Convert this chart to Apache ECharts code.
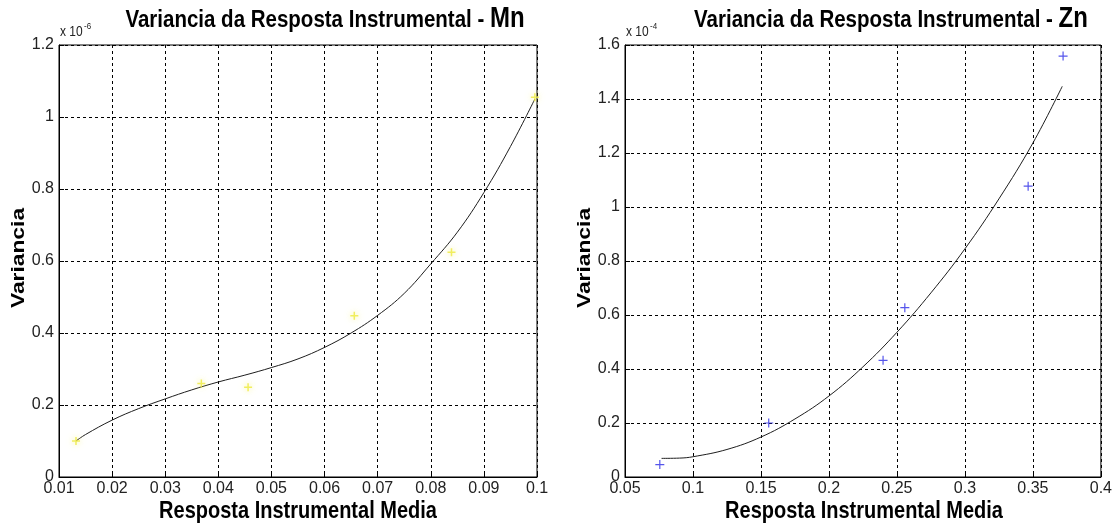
<!DOCTYPE html>
<html>
<head>
<meta charset="utf-8">
<script src="https://cdn.jsdelivr.net/npm/echarts@6/dist/echarts.min.js"></script>
<style>
  html, body { margin: 0; padding: 0; background: #fff; }
  #chart { width: 1115px; height: 527px; }
</style>
</head>
<body>
<div id="chart"></div>
<script>
// ---- Mn: measured points (variance in units of 1e-6) ----
const mnResponse = [0.0132, 0.0368, 0.0456, 0.0656, 0.0839, 0.0996];
const mnVariance = [0.100, 0.260, 0.249, 0.448, 0.624, 1.055];
// ---- Mn: fitted curve ----
const mnFitX = [0.0132, 0.015, 0.02, 0.025, 0.03, 0.035, 0.04, 0.045, 0.05, 0.055,
                0.06, 0.065, 0.07, 0.075, 0.08, 0.085, 0.09, 0.095, 0.0996];
const mnFitY = [0.100, 0.118, 0.158, 0.190, 0.217, 0.242, 0.264, 0.283, 0.304, 0.328,
                0.360, 0.400, 0.449, 0.510, 0.592, 0.680, 0.790, 0.918, 1.050];

// ---- Zn: measured points (variance in units of 1e-4) ----
const znResponse = [0.0756, 0.1557, 0.2398, 0.2558, 0.3465, 0.3722];
const znVariance = [0.046, 0.200, 0.432, 0.627, 1.077, 1.559];
// ---- Zn: fitted curve ----
const znFitX = [0.0769, 0.09, 0.1, 0.125, 0.15, 0.175, 0.2, 0.225, 0.25, 0.275,
                0.3, 0.325, 0.35, 0.3716];
const znFitY = [0.069, 0.070, 0.075, 0.102, 0.148, 0.215, 0.300, 0.408, 0.536, 0.682,
                0.845, 1.030, 1.237, 1.447];

// ---- axis ranges: [min, max, step] ----
const mnXAxis = [0.01, 0.1, 0.01];
const mnYAxis = [0, 1.2, 0.2];
const znXAxis = [0.05, 0.4, 0.05];
const znYAxis = [0, 1.6, 0.2];

// ---- texts ----
const titleText = 'Variancia da Resposta Instrumental - ';
const elements = ['Mn', 'Zn'];
const exponents = ['-6', '-4'];
const xName = 'Resposta Instrumental Media';
const yName = 'Variancia';

const pairs = (xs, ys) => xs.map((x, i) => [x, ys[i]]);
const fmt = v => String(Math.round(v * 1000) / 1000);

const TICK_FONT = '"Liberation Sans Narrow", "Arial Narrow", "Liberation Sans", Arial, sans-serif';
const BOLD_FONT = '"Liberation Sans", Arial, Helvetica, sans-serif';
const PLUS = 'path://M5,0L5,10M0,5L10,5';

const panels = [
  { left: 59, x: mnXAxis, y: mnYAxis },
  { left: 625, x: znXAxis, y: znYAxis }
];
const PW = 478, PT = 45, PH = 432;

function makeX(p, i) {
  return {
    type: 'value', gridIndex: i, min: p.x[0], max: p.x[1], interval: p.x[2],
    axisLine: { show: true, onZero: false, lineStyle: { color: '#000', width: 1 } },
    axisTick: { show: true, inside: true, length: 5, lineStyle: { color: '#000' } },
    axisLabel: { color: '#222', fontFamily: TICK_FONT, fontSize: 16, margin: 4, formatter: fmt },
    splitLine: { show: true, lineStyle: { color: '#000', width: 1, type: [3, 3] } }
  };
}
function makeY(p, i) {
  return {
    type: 'value', gridIndex: i, min: p.y[0], max: p.y[1], interval: p.y[2],
    axisLine: { show: true, onZero: false, lineStyle: { color: '#000', width: 1 } },
    axisTick: { show: true, inside: true, length: 5, lineStyle: { color: '#000' } },
    axisLabel: { color: '#222', fontFamily: TICK_FONT, fontSize: 16, margin: 5, formatter: fmt },
    splitLine: { show: true, lineStyle: { color: '#000', width: 1, type: [3, 3] } }
  };
}

const graphics = [];
panels.forEach((p, i) => {
  const cx = p.left + PW / 2;
  // title
  graphics.push({
    type: 'text', x: cx + 27, y: 33, scaleY: 1.2, z: 100, silent: true,
    style: {
      text: '{a|' + titleText + '}{b|' + elements[i] + '}',
      align: 'center', verticalAlign: 'bottom',
      rich: {
        a: { font: 'bold 20.5px ' + BOLD_FONT, fill: '#000', verticalAlign: 'bottom' },
        b: { font: 'bold 24px ' + BOLD_FONT, fill: '#000', verticalAlign: 'bottom' }
      }
    }
  });
  // exponent marker
  graphics.push({
    type: 'text', x: p.left + 1, y: 39, scaleY: 1.2, z: 100, silent: true,
    style: { text: 'x 10', font: '12px ' + BOLD_FONT, fill: '#222', align: 'left', verticalAlign: 'bottom' }
  });
  graphics.push({
    type: 'text', x: p.left + 25, y: 31, scaleY: 1.2, z: 100, silent: true,
    style: { text: exponents[i], font: '8px ' + BOLD_FONT, fill: '#222', align: 'left', verticalAlign: 'bottom' }
  });
  // x axis name
  graphics.push({
    type: 'text', x: cx, y: 511, scaleY: 1.2, z: 100, silent: true,
    style: { text: xName, font: 'bold 20px ' + BOLD_FONT, fill: '#000', align: 'center', verticalAlign: 'middle' }
  });
  // y axis name
  graphics.push({
    type: 'text', x: p.left - 40, y: PT + PH / 2 - 3, rotation: Math.PI / 2, scaleX: 1.2, z: 100, silent: true,
    style: { text: yName, font: 'bold 19px ' + BOLD_FONT, fill: '#000', align: 'center', verticalAlign: 'middle' }
  });
});

const chart = echarts.init(document.getElementById('chart'), null, { renderer: 'canvas' });
chart.setOption({
  animation: false,
  backgroundColor: '#fff',
  grid: panels.map(p => ({
    left: p.left, top: PT, width: PW, height: PH,
    show: true, borderColor: '#000', borderWidth: 1, backgroundColor: '#fff'
  })),
  xAxis: panels.map(makeX),
  yAxis: panels.map(makeY),
  series: [
    {
      type: 'line', xAxisIndex: 0, yAxisIndex: 0, data: pairs(mnFitX, mnFitY),
      smooth: 0.4, showSymbol: false, silent: true, z: 3,
      lineStyle: { color: '#1e1e1e', width: 1 }
    },
    {
      type: 'scatter', xAxisIndex: 0, yAxisIndex: 0, data: pairs(mnResponse, mnVariance),
      symbol: PLUS, symbolSize: 8, silent: true, z: 4,
      itemStyle: { color: 'rgba(0,0,0,0)', borderColor: '#eeea3c', borderWidth: 1.5,
                   shadowBlur: 6, shadowColor: 'rgba(245,240,90,0.9)' }
    },
    {
      type: 'line', xAxisIndex: 1, yAxisIndex: 1, data: pairs(znFitX, znFitY),
      smooth: 0.4, showSymbol: false, silent: true, z: 3,
      lineStyle: { color: '#1e1e1e', width: 1 }
    },
    {
      type: 'scatter', xAxisIndex: 1, yAxisIndex: 1, data: pairs(znResponse, znVariance),
      symbol: PLUS, symbolSize: 9, silent: true, z: 4,
      itemStyle: { color: 'rgba(0,0,0,0)', borderColor: '#2a2ae6', borderWidth: 1.2 }
    }
  ],
  graphic: graphics
});
</script>
</body>
</html>
